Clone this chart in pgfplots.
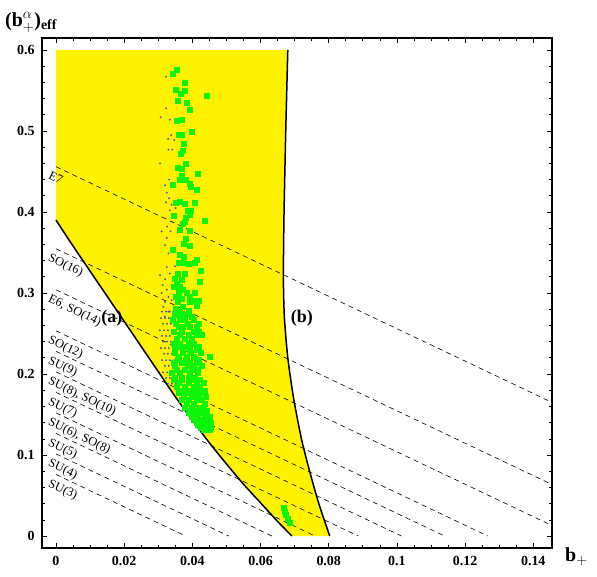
\documentclass[border=0pt]{standalone}
\usepackage{pgfplots}
\pgfplotsset{compat=1.18}
\usepackage{fontspec}
\setmainfont{Liberation Serif}

\definecolor{ptgreen}{RGB}{10,245,10}
\definecolor{ptblue}{RGB}{80,80,170}

\tikzset{glab/.style={anchor=north west, rotate=-25.4, inner sep=1bp,
    font=\fontsize{12.5}{13}\selectfont}}
\pgfplotsset{grp/.style={black, line width=0.6bp, dash pattern=on 5bp off 4bp}}

\begin{document}
\begin{tikzpicture}
\begin{axis}[
    width=510bp, height=510bp, scale only axis,
    xmin=-0.0041, xmax=0.1455,
    ymin=-0.0148, ymax=0.6148,
    xtick={0,0.02,0.04,0.06,0.08,0.1,0.12,0.14},
    xticklabels={0,0.02,0.04,0.06,0.08,0.1,0.12,0.14},
    ytick={0,0.1,0.2,0.3,0.4,0.5,0.6},
    yticklabels={0,0.1,0.2,0.3,0.4,0.5,0.6},
    minor x tick num=3, minor y tick num=4,
    tick align=inside,
    major tick length=5bp, minor tick length=3bp,
    tick style={black, line width=0.6bp},
    axis line style={line width=1.3bp},
    tick label style={font=\fontsize{14}{14}\selectfont\bfseries},
    xticklabel style={yshift=-5bp},
    yticklabel style={xshift=-4bp},
    clip mode=individual,
]
% allowed region
\addplot[fill=yellow, draw=none] coordinates {
    (0,0.6) (0.0680,0.6) (0.0674,0.5) (0.0669,0.4) (0.0667,0.32) (0.0670,0.27)
    (0.0680,0.22) (0.0697,0.17) (0.0720,0.12) (0.0744,0.08) (0.0771,0.04)
    (0.0803,0)
    (0.0692,0) (0.065,0.018) (0.06,0.041) (0.055,0.064) (0.05,0.089)
    (0.045,0.115) (0.04,0.143) (0.035,0.172) (0.03,0.203) (0.02,0.265)
    (0.01,0.327) (0.005,0.358) (0,0.39) (0,0.6)
};

% dashed group lines
\addplot[grp] coordinates {(0,0.07599) (0.03800,0)};
\addplot[grp] coordinates {(0,0.10132) (0.05066,0)};
\addplot[grp] coordinates {(0,0.12665) (0.06333,0)};
\addplot[grp] coordinates {(0,0.15198) (0.07599,0)};
\addplot[grp] coordinates {(0,0.17731) (0.08866,0)};
\addplot[grp] coordinates {(0,0.20264) (0.10132,0)};
\addplot[grp] coordinates {(0,0.22797) (0.11399,0)};
\addplot[grp] coordinates {(0,0.25330) (0.12665,0)};
\addplot[grp] coordinates {(0,0.30396) (0.15198,0)};
\addplot[grp] coordinates {(0,0.35462) (0.17731,0)};
\addplot[grp] coordinates {(0,0.45594) (0.22797,0)};

% boundary curves
\addplot[black, line width=1.5bp, smooth, tension=0.4] coordinates {
    (0,0.39) (0.005,0.358) (0.01,0.327) (0.02,0.265) (0.03,0.203) (0.035,0.172)
    (0.04,0.143) (0.045,0.115) (0.05,0.089) (0.055,0.064) (0.06,0.041)
    (0.065,0.018) (0.0692,0)
};
\addplot[black, line width=1.5bp, smooth, tension=0.4] coordinates {
    (0.0680,0.6) (0.0674,0.5) (0.0669,0.4) (0.0667,0.32) (0.0670,0.27)
    (0.0680,0.22) (0.0697,0.17) (0.0720,0.12) (0.0744,0.08) (0.0771,0.04)
    (0.0803,0)
};

% small dots
\addplot[only marks, mark=*, mark size=0.7bp, ptblue] coordinates {
    (0.0323,0.567) (0.0323,0.528) (0.0307,0.517) (0.0334,0.514) (0.0338,0.495)
    (0.0329,0.490) (0.0347,0.489) (0.0330,0.477) (0.0341,0.477) (0.0305,0.460)
    (0.0332,0.440) (0.0320,0.433) (0.0325,0.424) (0.0332,0.417) (0.0323,0.412)
    (0.0339,0.409) (0.0334,0.402) (0.0351,0.405) (0.0326,0.382) (0.0310,0.376)
    (0.0336,0.376) (0.0325,0.368) (0.0320,0.359) (0.0330,0.349) (0.0325,0.332)
    (0.0349,0.333) (0.0305,0.322) (0.0320,0.317) (0.0334,0.324) (0.0313,0.310)
    (0.0325,0.304) (0.0310,0.300) (0.0330,0.295) (0.0320,0.289) (0.0339,0.291)
    (0.0315,0.283) (0.0330,0.277) (0.0320,0.271)
    (0.0311,0.277) (0.0323,0.277) (0.0334,0.277)
    (0.0308,0.269) (0.0320,0.269) (0.0331,0.269)
    (0.0314,0.262) (0.0326,0.262) (0.0337,0.262)
    (0.0305,0.254) (0.0317,0.254) (0.0328,0.254) (0.0340,0.254)
    (0.0311,0.247) (0.0323,0.247) (0.0334,0.247)
    (0.0314,0.240) (0.0326,0.240) (0.0337,0.240) (0.0346,0.240)
    (0.0308,0.232) (0.0320,0.232) (0.0331,0.232) (0.0343,0.232)
    (0.0317,0.225) (0.0328,0.225) (0.0340,0.225)
    (0.0311,0.217) (0.0323,0.217) (0.0334,0.217) (0.0346,0.217)
    (0.0320,0.210) (0.0331,0.210) (0.0343,0.210)
    (0.0314,0.202) (0.0326,0.202) (0.0337,0.202) (0.0349,0.202)
    (0.0323,0.195) (0.0334,0.195) (0.0346,0.195)
    (0.0328,0.188) (0.0340,0.188) (0.0352,0.188)
};

% green points
\addplot[only marks, mark=square*, mark size=2.5bp, ptgreen] coordinates {
    (0.0354,0.576) (0.0342,0.571) (0.0378,0.559) (0.0352,0.551) (0.0366,0.546)
    (0.0377,0.550) (0.0443,0.544) (0.0358,0.537) (0.0383,0.535) (0.0391,0.526)
    (0.0354,0.513) (0.0368,0.514) (0.0398,0.499) (0.0359,0.495) (0.0370,0.496)
    (0.0375,0.484) (0.0372,0.476) (0.0365,0.472)
    (0.0381,0.459) (0.0357,0.455) (0.0368,0.453) (0.0416,0.447) (0.0370,0.445)
    (0.0381,0.440) (0.0364,0.440) (0.0393,0.435) (0.0396,0.431) (0.0342,0.434)
    (0.0413,0.428) (0.0362,0.413) (0.0378,0.410) (0.0406,0.412) (0.0352,0.411)
    (0.0385,0.401) (0.0395,0.402) (0.0393,0.397) (0.0345,0.395) (0.0381,0.393)
    (0.0436,0.389) (0.0377,0.388) (0.0371,0.385) (0.0362,0.378) (0.0391,0.377)
    (0.0380,0.367) (0.0375,0.361) (0.0392,0.358) (0.0341,0.354)
    (0.0364,0.347) (0.0376,0.345) (0.0414,0.341) (0.0359,0.338) (0.0373,0.337)
    (0.0388,0.336) (0.0408,0.337) (0.0424,0.328) (0.0358,0.324) (0.0378,0.324)
    (0.0349,0.318) (0.0369,0.317) (0.0422,0.314) (0.0354,0.312) (0.0346,0.308)
    (0.0364,0.308) (0.0373,0.304) (0.0360,0.300) (0.0383,0.300) (0.0408,0.300)
    (0.0393,0.296) (0.0352,0.295) (0.0369,0.293) (0.0391,0.289) (0.0357,0.289)
    (0.0414,0.284) (0.0352,0.281) (0.0373,0.283) (0.0364,0.277) (0.0388,0.278)
    (0.0373,0.273) (0.0398,0.271) (0.0354,0.273)
    (0.0400,0.290) (0.0420,0.290)
    (0.0349,0.275) (0.0369,0.275) (0.0388,0.275)
    (0.0342,0.267) (0.0364,0.267) (0.0378,0.267) (0.0403,0.267)
    (0.0352,0.262) (0.0386,0.262) (0.0420,0.262)
    (0.0359,0.258) (0.0373,0.258) (0.0393,0.258) (0.0413,0.258)
    (0.0344,0.252) (0.0369,0.252) (0.0403,0.252) (0.0420,0.252)
    (0.0362,0.248) (0.0390,0.248) (0.0412,0.248) (0.0428,0.248)
    (0.0354,0.244) (0.0378,0.244) (0.0398,0.244)
    (0.0344,0.238) (0.0364,0.238) (0.0388,0.238) (0.0403,0.238)
    (0.0357,0.234) (0.0381,0.234) (0.0420,0.234)
    (0.0349,0.230) (0.0373,0.230) (0.0393,0.230) (0.0413,0.230)
    (0.0349,0.226) (0.0371,0.226) (0.0395,0.226) (0.0425,0.226)
    (0.0359,0.221) (0.0383,0.221) (0.0403,0.221) (0.0452,0.221)
    (0.0357,0.218) (0.0381,0.218) (0.0420,0.218)
    (0.0344,0.214) (0.0369,0.214) (0.0393,0.214) (0.0413,0.214)
    (0.0349,0.210) (0.0386,0.210) (0.0405,0.210) (0.0428,0.210)
    (0.0354,0.205) (0.0378,0.205) (0.0398,0.205) (0.0417,0.205)
    (0.0349,0.196) (0.0369,0.196) (0.0388,0.196) (0.0408,0.196)
    (0.0339,0.201) (0.0364,0.201) (0.0393,0.201) (0.0417,0.201)
    (0.0344,0.193) (0.0369,0.193) (0.0398,0.193) (0.0422,0.193)
    (0.0359,0.189) (0.0390,0.189) (0.0412,0.189) (0.0432,0.189)
    (0.0354,0.184) (0.0378,0.184) (0.0403,0.184) (0.0422,0.184)
    (0.0368,0.180) (0.0393,0.180) (0.0415,0.180) (0.0437,0.180)
    (0.0359,0.177) (0.0383,0.177) (0.0408,0.177) (0.0424,0.177)
    (0.0374,0.172) (0.0398,0.172) (0.0418,0.172) (0.0440,0.172)
    (0.0369,0.168) (0.0388,0.168) (0.0413,0.168) (0.0427,0.168)
    (0.0383,0.163) (0.0405,0.163) (0.0437,0.163)
    (0.0378,0.159) (0.0398,0.159) (0.0422,0.159) (0.0432,0.159)
    (0.0393,0.155) (0.0415,0.155) (0.0442,0.155)
    (0.0388,0.152) (0.0408,0.152) (0.0432,0.152)
    (0.0398,0.147) (0.0415,0.147) (0.0437,0.147) (0.0450,0.147)
    (0.0403,0.143) (0.0422,0.143) (0.0442,0.143)
    (0.0412,0.140) (0.0430,0.140) (0.0455,0.140)
    (0.0417,0.137) (0.0437,0.137) (0.0447,0.137)
    (0.0425,0.134) (0.0442,0.134) (0.0455,0.134)
    (0.0432,0.131) (0.0450,0.131)
    (0.0669,0.035) (0.0672,0.030) (0.0675,0.026) (0.0680,0.021) (0.0686,0.016)
};

% labels along the lines
\node[glab] at (axis cs:-0.0015,0.4530) {E7};
\node[glab] at (axis cs:-0.0015,0.3516) {SO(16)};
\node[glab] at (axis cs:-0.0015,0.3010) {E6, SO(14)};
\node[glab] at (axis cs:-0.0015,0.2503) {SO(12)};
\node[glab] at (axis cs:-0.0015,0.2250) {SU(9)};
\node[glab] at (axis cs:-0.0015,0.1996) {SU(8), SO(10)};
\node[glab] at (axis cs:-0.0015,0.1743) {SU(7)};
\node[glab] at (axis cs:-0.0015,0.1490) {SU(6), SO(8)};
\node[glab] at (axis cs:-0.0015,0.1237) {SU(5)};
\node[glab] at (axis cs:-0.0015,0.0983) {SU(4)};
\node[glab] at (axis cs:-0.0015,0.0730) {SU(3)};

\node[font=\fontsize{18}{18}\selectfont\bfseries] at (axis cs:0.0164,0.269) {(a)};
\node[font=\fontsize{18}{18}\selectfont\bfseries] at (axis cs:0.0721,0.269) {(b)};

% axis titles
\node[anchor=base west, inner sep=0pt, font=\fontsize{20}{24}\selectfont\bfseries]
    at (axis description cs:-0.0725,1.0235) {(b$^{\alpha}_{+}$)\textsubscript{eff}};
\node[anchor=base west, inner sep=0pt, font=\fontsize{20}{24}\selectfont\bfseries]
    at (axis description cs:1.0255,-0.027) {b$_{+}$};
\end{axis}
\path ([shift={(-42bp,-29bp)}]current axis.south west)
    rectangle ([shift={(45bp,38bp)}]current axis.north east);
\end{tikzpicture}
\end{document}
